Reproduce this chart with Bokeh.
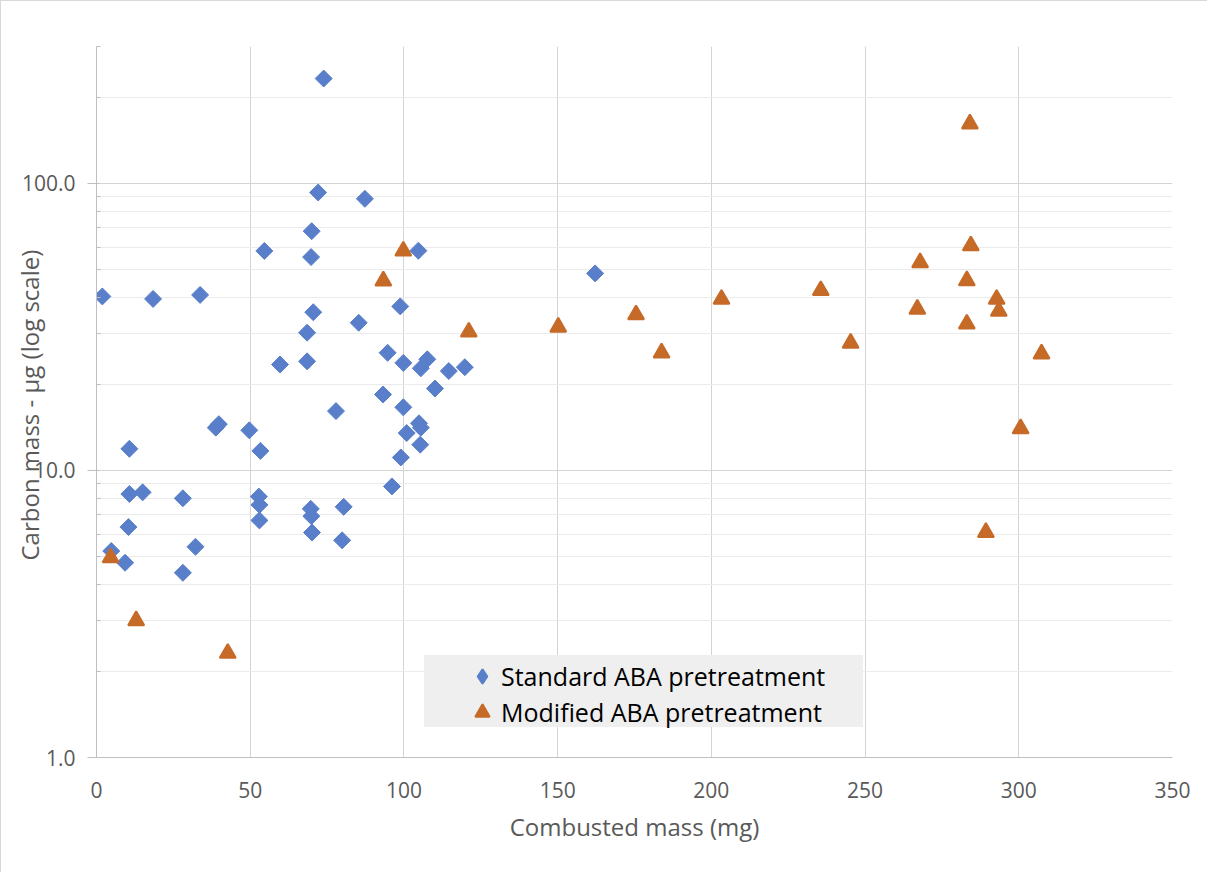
import math
from bokeh.plotting import figure
from bokeh.models import Range1d, FixedTicker, PrintfTickFormatter, Legend, LegendItem
from bokeh.embed import file_html
from bokeh.resources import INLINE

# ---- data ----
std_x = [1.9, 4.8, 9.3, 10.4, 10.7, 10.7, 15.0, 18.4, 28.1, 28.1, 32.2, 33.7,
         38.8, 39.8, 49.7, 53.3, 52.8, 53.0, 53.0, 54.6, 59.7, 68.5, 68.5, 69.8,
         70.0, 70.5, 69.7, 69.9, 70.1, 72.1, 73.9, 77.9, 79.9, 80.4, 85.3, 87.3,
         93.2, 94.7, 96.1, 98.8, 99.0, 99.8, 99.8, 100.9, 104.7, 104.9, 105.5,
         105.3, 105.5, 107.6, 110.1, 114.6, 119.8, 162.2]
std_y = [40.4, 5.24, 4.77, 6.35, 8.28, 11.9, 8.39, 39.6, 8.0, 4.40, 5.42, 40.9,
         14.1, 14.5, 13.8, 11.7, 8.11, 7.59, 6.70, 58.2, 23.4, 24.0, 30.2, 55.4,
         68.2, 35.6, 7.35, 6.93, 6.08, 93.0, 232.0, 16.1, 5.71, 7.47, 32.7, 88.4,
         18.4, 25.7, 8.80, 37.3, 11.1, 23.7, 16.6, 13.5, 58.3, 14.6, 14.1,
         12.3, 22.7, 24.4, 19.3, 22.2, 22.9, 48.6]

mod_x = [4.6, 12.9, 42.7, 93.3, 99.8, 121.1, 150.2, 175.5, 183.8, 203.3, 235.6,
         245.3, 267.0, 267.9, 283.1, 283.1, 284.1, 284.4, 289.3, 292.8, 293.5,
         300.6, 307.4]
mod_y = [4.97, 3.00, 2.31, 45.8, 58.2, 30.4, 31.6, 34.9, 25.7, 39.5, 42.4,
         27.8, 36.5, 53.0, 32.4, 45.9, 161.4, 60.7, 6.09, 39.5, 35.9,
         14.0, 25.5]

x_ticks = [0, 50, 100, 150, 200, 250, 300, 350]
y_ticks = [1, 10, 100]
y_minor = [2, 3, 4, 5, 6, 7, 8, 9, 20, 30, 40, 50, 60, 70, 80, 90, 200, 300]

std_label = "Standard ABA pretreatment"
mod_label = "Modified ABA pretreatment"
x_title = "Combusted mass (mg)"
y_title = "Carbon mass  - µg (log scale)"

FONT = "Open Sans"
TXT = "#595959"
BLUE = "#5a7fca"
ORANGE = "#c66a28"

p = figure(width=1207, height=872, output_backend="svg", toolbar_location=None,
           y_axis_type="log", x_range=Range1d(0, 350), y_range=Range1d(1, 300),
           min_border_left=96, min_border_right=35, min_border_top=46,
           min_border_bottom=115)
p.border_fill_color = None
p.background_fill_color = "white"
p.outline_line_color = None
p.styles = {"box-shadow": "inset 1px 1px 0 0 #d9d9d9"}

# axes
p.xaxis.ticker = FixedTicker(ticks=x_ticks, minor_ticks=[])
p.yaxis.ticker = FixedTicker(ticks=y_ticks, minor_ticks=y_minor)
p.yaxis.formatter = PrintfTickFormatter(format="%.1f")

for ax in (p.xaxis[0], p.yaxis[0]):
    ax.axis_line_color = "#bfbfbf"
    ax.axis_line_width = 1
    ax.major_tick_line_color = "#bfbfbf"
    ax.minor_tick_line_color = "#bfbfbf"
    ax.major_label_text_font = FONT
    ax.major_label_text_font_size = "21px"
    ax.major_label_text_color = TXT
    ax.axis_label_text_font = FONT
    ax.axis_label_text_font_size = "24px"
    ax.axis_label_text_color = TXT
    ax.axis_label_text_font_style = "normal"

p.xaxis.major_tick_out = 0
p.xaxis.major_tick_in = 0
p.xaxis.minor_tick_out = 0
p.xaxis.minor_tick_in = 0
p.xaxis.major_label_standoff = 24
p.xaxis.axis_label = x_title
p.xaxis.axis_label_standoff = 9

p.yaxis.major_tick_out = 9
p.yaxis.major_tick_in = 3
p.yaxis.minor_tick_out = 0
p.yaxis.minor_tick_in = 4
p.yaxis.major_label_standoff = 12
p.yaxis.axis_label = y_title
p.yaxis.axis_label_standoff = -27

# grids
p.xgrid.grid_line_color = "#d4d4d4"
p.ygrid.grid_line_color = "#d4d4d4"
p.ygrid.minor_grid_line_color = "#ebebeb"

# data: diamonds (a rhombus under a 45-degree square so the legend shows a diamond)
std_legend_r = p.scatter(std_x, std_y, marker="diamond", size=13, line_width=2,
                         fill_color=BLUE, line_color=BLUE)
p.scatter(std_x, std_y, marker="square", angle=math.pi / 4, size=12,
          fill_color=BLUE, line_color=BLUE)
mod_r = p.scatter(mod_x, mod_y, marker="triangle", size=16, line_width=2,
                  fill_color=ORANGE, line_color=ORANGE)

# legend background box (no glyph)
sw_bg = p.scatter(x=[], y=[], marker="square", fill_alpha=0, line_alpha=0)
bg = Legend(items=[LegendItem(label=" ", renderers=[sw_bg])],
            location=(328, 30), background_fill_color="#efefef",
            background_fill_alpha=1.0, border_line_color=None,
            padding=0, margin=0, spacing=0, glyph_width=20, glyph_height=72,
            label_height=72, label_width=419, label_standoff=0,
            label_text_font_size="10px")
p.add_layout(bg, "center")

fg = Legend(items=[LegendItem(label=std_label, renderers=[std_legend_r]),
                   LegendItem(label=mod_label, renderers=[mod_r])],
            location=(367, 27), background_fill_alpha=0.0,
            border_line_color=None, padding=2, margin=0, spacing=0,
            glyph_width=38, glyph_height=36, label_standoff=0,
            label_text_font=FONT, label_text_font_size="25px",
            label_text_color="#000000")
p.add_layout(fg, "center")

open("out.html", "w").write(file_html(p, INLINE))
